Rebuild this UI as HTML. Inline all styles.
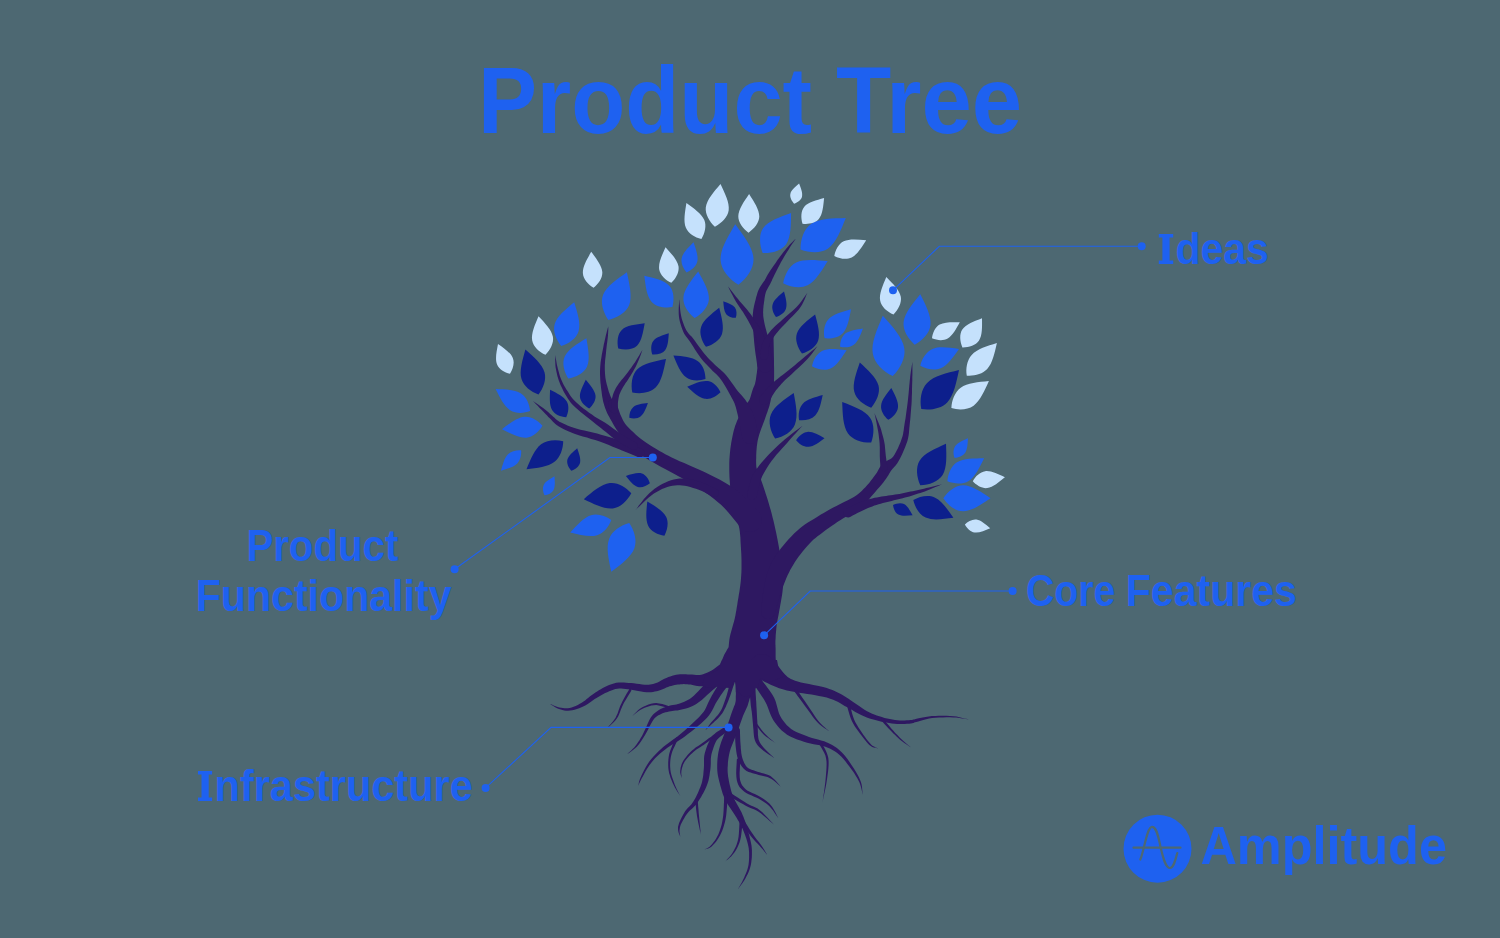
<!DOCTYPE html>
<html><head><meta charset="utf-8"><title>Product Tree</title>
<style>
html,body{margin:0;padding:0;background:#4d6872;}
body{width:1500px;height:938px;overflow:hidden;font-family:"Liberation Sans",sans-serif;}
svg{display:block;}
</style></head><body>
<svg width="1500" height="938" viewBox="0 0 1500 938">
<rect width="1500" height="938" fill="#4d6872"/>
<g fill="#2e1861">
<path d="M755.5 335.5L755.8 338.4L756.2 342.4L756.7 347.1L757.1 352.1L757.5 356.9L757.6 361.1L757.5 364.9L757.3 368.7L756.9 372.4L756.4 375.8L756.0 378.9L755.5 381.6L755.1 383.5L754.7 384.8L754.2 385.9L753.7 387.1L753.0 388.7L752.4 390.6L751.8 392.6L751.2 394.4L750.8 396.1L750.3 397.6L749.8 399.0L749.2 400.2L748.6 401.2L747.8 402.2L746.8 403.5L745.7 405.0L744.4 406.8L743.1 408.9L741.9 411.1L740.7 413.4L739.5 415.9L738.2 418.5L737.0 421.1L736.0 423.7L735.1 426.1L734.4 428.4L733.8 430.6L733.2 432.9L732.7 435.3L732.2 437.7L731.7 440.3L731.2 443.0L730.8 445.8L730.4 448.6L730.1 451.4L729.8 454.2L729.6 456.9L729.4 459.6L729.3 462.4L729.3 465.3L729.3 468.3L729.3 471.4L729.4 474.5L729.5 477.5L729.7 480.3L729.9 483.1L730.1 485.8L730.4 488.6L730.8 491.8L731.4 495.3L732.0 498.8L732.6 502.4L733.3 506.0L734.1 509.5L735.0 513.1L736.0 516.6L737.1 519.9L738.0 523.0L738.8 525.9L739.4 528.7L739.8 531.5L740.1 534.5L740.4 537.5L740.5 540.7L740.7 544.0L740.9 547.3L741.1 550.6L741.3 553.8L741.4 557.0L741.5 560.1L741.5 563.1L741.5 566.2L741.5 569.3L741.4 572.4L741.2 575.4L741.0 578.2L740.8 580.9L740.5 583.5L740.2 586.0L739.8 588.7L739.4 591.7L738.8 594.9L738.3 598.2L737.7 601.5L737.3 604.4L736.8 607.2L736.4 609.9L735.9 612.6L735.4 615.4L734.8 618.3L734.1 621.2L733.2 624.3L732.3 627.5L731.4 630.7L730.5 633.9L729.8 637.0L729.3 640.1L729.0 642.9L728.8 645.1L728.7 646.6L728.5 647.3L728.2 647.9L727.6 648.8L726.9 650.0L726.1 651.4L725.2 653.1L724.2 654.8L723.4 656.7L722.7 658.4L722.0 659.9L721.4 661.3L720.8 662.4L720.4 663.2L720.0 663.8L778.0 672.2L777.8 671.4L777.6 670.4L777.4 669.4L777.2 668.2L776.9 667.0L776.6 665.9L776.3 664.7L776.1 663.1L775.9 661.1L775.7 658.8L775.6 656.3L775.6 653.5L775.6 650.7L775.6 648.3L775.5 646.5L775.5 645.3L775.4 644.3L775.4 643.0L775.4 640.9L775.6 638.3L775.7 635.3L776.0 632.1L776.3 628.8L776.6 625.7L777.0 622.9L777.5 620.1L778.0 617.4L778.6 614.5L779.1 611.6L779.7 608.5L780.2 605.5L780.8 602.2L781.4 598.7L782.1 594.8L782.6 590.8L782.9 586.5L783.0 582.4L782.9 578.5L782.6 574.6L782.3 570.9L781.9 567.4L781.5 563.8L781.0 560.2L780.5 556.6L779.9 553.0L779.3 549.5L778.7 546.1L778.1 542.7L777.5 539.4L776.8 536.0L776.1 532.5L775.3 528.9L774.5 525.2L773.6 521.3L772.6 517.4L771.7 513.7L770.7 510.1L769.7 506.7L768.8 503.5L767.9 500.5L766.9 497.3L765.8 493.9L764.7 490.6L763.6 487.3L762.6 484.3L761.6 481.4L760.6 478.6L759.6 476.2L758.7 474.1L757.9 472.2L757.2 470.4L756.7 468.6L756.3 466.7L756.2 464.7L756.1 462.6L756.1 460.4L756.2 458.1L756.2 455.8L756.3 453.5L756.4 451.2L756.6 448.9L756.8 446.6L757.1 444.4L757.4 442.3L757.7 440.4L758.1 438.8L758.5 437.2L758.9 435.7L759.4 434.1L760.0 432.3L760.6 430.4L761.4 428.2L762.3 425.9L763.2 423.5L764.1 421.2L764.9 419.1L765.4 417.4L766.0 415.8L766.6 414.1L767.3 412.2L768.0 410.1L768.8 407.8L769.5 405.5L770.0 403.3L770.5 401.3L770.9 399.3L771.3 397.6L771.6 396.0L771.9 394.6L772.3 393.2L772.7 391.5L773.2 389.3L773.6 386.7L773.9 383.8L774.0 380.6L774.1 377.1L774.1 373.3L774.1 369.3L774.0 365.1L774.0 360.9L773.9 356.3L773.8 351.3L773.7 346.1L773.6 341.4L773.5 337.3L773.5 334.5Z"/>
<path d="M795.7 238.8L794.9 239.6L793.8 240.6L792.5 241.9L791.1 243.3L789.6 244.8L788.2 246.4L786.8 248.0L785.4 249.7L783.9 251.5L782.4 253.5L780.9 255.5L779.2 257.7L777.5 260.1L775.6 262.9L773.6 265.7L771.7 268.5L770.0 271.1L768.6 273.2L767.5 274.9L766.8 276.3L766.2 277.5L765.7 278.4L765.2 279.3L764.6 280.4L763.8 281.6L762.9 282.8L761.9 284.2L760.9 285.8L759.8 287.4L758.9 289.3L758.1 291.1L757.4 293.0L756.9 294.9L756.3 296.8L755.8 298.7L755.4 300.4L754.9 302.2L754.5 304.0L754.0 305.9L753.7 307.8L753.3 309.7L753.1 311.7L752.9 313.4L752.7 315.1L752.7 316.8L752.6 318.6L752.7 320.8L752.8 323.4L753.0 326.6L753.2 330.3L753.5 334.3L753.9 338.4L754.2 342.4L754.6 346.2L755.0 349.8L755.5 353.7L756.1 357.5L756.6 361.0L757.0 364.0L757.3 366.1L758.4 369.0L760.4 371.2L763.1 372.5L766.1 372.7L769.0 371.6L771.2 369.6L772.5 366.9L772.7 363.9L772.3 361.7L771.9 358.8L771.4 355.3L770.8 351.4L770.1 347.6L769.4 343.8L768.6 340.1L767.7 336.2L766.7 332.2L765.7 328.4L764.8 324.9L764.2 322.0L763.8 319.7L763.5 317.9L763.3 316.5L763.2 315.2L763.2 313.9L763.1 312.3L763.2 310.7L763.2 309.1L763.4 307.4L763.5 305.7L763.8 303.9L764.0 302.2L764.3 300.4L764.5 298.6L764.8 296.8L765.1 295.1L765.5 293.6L765.9 292.1L766.4 290.8L767.1 289.4L767.9 288.0L768.7 286.6L769.6 285.1L770.4 283.6L771.0 282.3L771.5 281.2L772.0 280.2L772.4 279.1L773.0 277.9L773.8 276.2L774.9 273.9L776.3 271.2L777.8 268.2L779.4 265.2L780.9 262.3L782.4 259.7L783.7 257.4L785.0 255.2L786.2 253.2L787.5 251.2L788.7 249.4L789.8 247.6L790.9 245.8L792.1 244.1L793.2 242.5L794.2 241.0L795.1 239.7L795.7 238.8Z"/>
<path d="M728.0 286.4L728.8 288.0L729.9 290.2L731.2 292.8L732.7 295.6L734.1 298.3L735.6 300.9L737.0 303.2L738.5 305.5L740.0 307.7L741.5 309.9L743.0 312.1L744.3 314.2L745.7 316.4L746.9 318.6L748.2 320.8L749.4 323.0L750.5 325.1L751.6 327.2L752.6 329.2L753.5 331.1L754.3 332.9L755.0 334.7L755.6 336.5L756.2 338.3L756.7 340.3L757.2 342.7L757.6 345.1L758.0 347.4L758.3 349.4L758.6 350.9L759.3 352.5L760.5 353.8L762.2 354.4L763.9 354.4L765.5 353.7L766.8 352.5L767.4 350.8L767.4 349.1L767.1 347.7L766.6 345.7L766.1 343.3L765.4 340.7L764.6 338.1L763.8 335.7L762.8 333.5L761.8 331.5L760.8 329.6L759.6 327.8L758.5 325.9L757.2 324.0L755.9 322.0L754.5 319.9L753.1 317.8L751.6 315.6L750.1 313.5L748.5 311.4L746.8 309.3L745.0 307.2L743.3 305.2L741.5 303.2L739.7 301.2L738.0 299.1L736.2 296.9L734.3 294.5L732.4 292.0L730.6 289.7L729.1 287.8L728.0 286.4Z"/>
<path d="M807.5 292.5L806.5 293.9L805.1 295.9L803.5 298.3L801.8 300.8L799.9 303.3L798.0 305.5L796.1 307.5L794.0 309.5L791.8 311.5L789.4 313.5L787.1 315.5L784.8 317.6L782.6 319.6L780.2 321.7L777.8 323.7L775.5 325.8L773.3 328.0L771.3 330.1L769.5 332.2L767.9 334.2L766.4 336.3L765.0 338.4L763.8 340.5L762.7 342.8L761.8 345.2L761.2 347.8L760.8 350.3L760.5 352.5L760.2 354.3L760.0 355.5L760.2 357.1L760.9 358.5L762.1 359.5L763.5 360.0L765.1 359.8L766.5 359.1L767.5 357.9L768.0 356.5L768.1 355.1L768.2 353.3L768.3 351.2L768.5 349.1L768.8 347.0L769.3 345.2L770.0 343.5L770.8 341.7L771.9 339.8L773.1 337.9L774.4 335.9L775.9 333.9L777.6 331.9L779.4 329.7L781.5 327.6L783.7 325.3L785.9 323.1L788.0 320.8L790.1 318.6L792.2 316.5L794.4 314.3L796.5 312.0L798.6 309.7L800.4 307.3L802.0 304.7L803.5 301.8L804.8 299.0L805.9 296.3L806.8 294.1L807.5 292.5Z"/>
<path d="M817.5 346.2L816.1 347.3L814.3 348.9L812.0 350.8L809.6 352.8L807.2 354.8L804.8 356.8L802.5 358.7L800.1 360.7L797.6 362.8L795.1 364.9L792.7 366.9L790.4 368.7L788.3 370.4L786.4 371.9L784.5 373.4L782.6 374.9L780.8 376.3L779.0 377.8L777.2 379.2L775.5 380.6L773.9 381.9L772.2 383.3L770.6 384.8L768.9 386.4L767.2 388.3L765.4 390.3L763.7 392.4L762.1 394.4L760.8 396.0L759.9 397.1L759.1 398.9L759.1 400.9L759.8 402.7L761.1 404.1L762.9 404.9L764.9 404.9L766.7 404.2L768.1 402.9L768.9 401.6L769.9 399.8L771.2 397.7L772.5 395.5L773.8 393.4L775.1 391.6L776.2 390.0L777.5 388.4L778.7 386.9L780.1 385.4L781.5 383.8L783.0 382.2L784.6 380.6L786.2 379.1L787.9 377.5L789.7 375.9L791.6 374.2L793.6 372.3L795.7 370.3L798.0 368.2L800.4 366.0L802.8 363.7L805.0 361.5L807.2 359.2L809.2 356.9L811.3 354.4L813.2 351.9L815.0 349.6L816.4 347.6L817.5 346.2Z"/>
<path d="M679.3 299.3L679.2 301.1L679.0 303.7L678.8 306.7L678.7 310.0L678.7 313.2L678.9 316.2L679.3 318.9L679.9 321.7L680.7 324.4L681.5 327.0L682.4 329.5L683.3 331.7L684.2 333.7L685.2 335.3L686.3 336.7L687.3 338.0L688.4 339.5L689.7 341.3L691.2 343.6L693.0 346.3L694.8 349.3L696.8 352.2L698.7 355.1L700.6 357.7L702.4 359.9L704.1 362.0L705.8 363.8L707.5 365.6L709.2 367.3L710.9 369.1L712.7 370.9L714.4 372.6L716.1 374.1L717.8 375.7L719.4 377.4L720.9 379.4L722.5 381.7L724.2 384.4L725.9 387.3L727.6 390.2L729.1 393.0L730.5 395.6L731.8 397.9L732.8 399.8L733.7 401.5L734.4 403.1L735.0 404.7L735.6 406.6L736.3 408.9L736.9 411.5L737.6 414.2L738.2 416.9L738.8 419.6L739.3 422.1L739.8 424.6L740.3 427.4L740.9 430.4L741.4 433.1L741.8 435.5L742.1 437.3L743.2 440.2L745.4 442.5L748.2 443.8L751.3 443.9L754.2 442.8L756.5 440.6L757.8 437.8L757.9 434.7L757.6 433.0L757.3 430.6L756.9 427.6L756.3 424.4L755.6 421.1L754.7 417.9L753.6 414.9L752.3 412.0L750.9 409.2L749.4 406.4L747.9 403.8L746.4 401.4L744.9 399.2L743.4 397.4L742.0 395.8L740.6 394.3L739.2 392.8L737.7 391.0L736.0 388.7L734.1 386.1L732.1 383.3L730.1 380.4L728.1 377.7L726.1 375.2L724.1 373.1L722.2 371.2L720.3 369.5L718.5 368.0L716.8 366.5L715.1 364.9L713.4 363.2L711.6 361.5L710.0 359.9L708.3 358.2L706.6 356.3L704.8 354.3L703.0 352.0L701.0 349.3L698.9 346.5L696.9 343.7L695.0 341.0L693.3 338.7L691.8 336.8L690.4 335.4L689.2 334.2L688.2 333.1L687.3 331.8L686.3 330.3L685.3 328.2L684.3 326.0L683.4 323.5L682.5 321.0L681.7 318.4L681.1 315.8L680.6 313.0L680.2 309.9L679.9 306.7L679.6 303.7L679.5 301.1L679.3 299.3Z"/>
<path d="M802.5 425.8L800.6 427.3L797.9 429.2L794.7 431.6L791.3 434.2L787.9 436.9L784.7 439.6L781.6 442.2L778.5 445.0L775.4 448.0L772.3 450.9L769.3 454.0L766.5 456.9L763.9 459.9L761.4 462.8L759.0 465.8L756.8 468.8L754.7 471.9L752.9 475.1L751.3 478.7L750.1 482.4L749.1 486.0L748.3 489.3L747.6 492.0L747.1 493.8L747.1 495.8L747.7 497.6L749.1 499.1L750.8 499.9L752.8 499.9L754.6 499.3L756.1 497.9L756.9 496.2L757.3 494.1L757.8 491.4L758.4 488.2L759.2 485.0L760.1 481.8L761.1 478.9L762.3 476.1L763.8 473.2L765.5 470.2L767.3 467.2L769.4 464.1L771.5 461.1L773.9 458.0L776.4 454.8L779.2 451.7L782.0 448.5L784.8 445.4L787.5 442.4L790.2 439.3L793.1 436.1L796.0 433.0L798.6 430.0L800.9 427.6L802.5 425.8Z"/>
<path d="M608.3 326.3L608.1 327.2L607.7 328.3L607.4 329.6L606.9 331.2L606.5 333.0L606.0 334.8L605.5 336.9L605.0 339.3L604.4 341.9L603.8 344.5L603.3 347.2L602.8 349.7L602.3 352.3L601.8 354.8L601.4 357.4L601.0 359.9L600.6 362.4L600.4 364.9L600.2 367.2L600.1 369.5L600.0 371.7L600.0 373.8L600.1 376.0L600.2 378.3L600.3 380.6L600.5 382.9L600.8 385.3L601.0 387.5L601.3 389.7L601.6 391.7L601.8 393.6L602.0 395.3L602.3 397.0L602.6 398.6L602.9 400.3L603.3 402.0L603.8 403.8L604.3 405.5L604.8 407.1L605.3 408.5L605.8 409.8L606.3 411.1L606.9 412.4L607.6 413.9L608.4 415.4L609.3 417.0L610.2 418.7L611.2 420.4L612.1 422.1L613.0 423.7L614.0 425.6L615.2 427.5L616.6 429.7L618.3 432.0L620.2 434.4L622.2 437.2L624.5 440.1L627.0 443.0L629.6 445.9L632.3 448.5L635.1 450.9L638.1 453.0L641.0 455.0L644.0 456.9L646.9 458.7L649.9 460.5L653.0 462.3L656.0 464.0L659.0 465.7L662.2 467.4L665.6 469.3L669.3 471.3L673.5 473.6L678.0 476.0L682.7 478.5L687.4 481.1L692.0 483.7L696.4 486.5L700.8 489.4L705.3 492.5L709.6 495.5L713.8 498.7L717.7 501.9L721.3 505.1L724.8 508.6L728.6 512.8L732.3 517.3L735.8 521.6L738.8 525.3L741.1 528.1L744.9 530.9L749.4 532.0L754.1 531.3L758.1 528.9L760.9 525.1L762.0 520.6L761.3 515.9L758.9 511.9L756.5 509.5L753.2 506.1L749.1 501.9L744.6 497.4L739.7 493.0L734.7 488.9L729.7 485.5L724.7 482.4L719.5 479.6L714.4 477.0L709.4 474.5L704.4 472.1L699.4 469.7L694.2 467.4L689.1 465.2L684.2 463.1L679.6 461.2L675.5 459.3L671.7 457.5L668.4 455.8L665.3 454.2L662.4 452.6L659.5 451.0L656.7 449.3L653.7 447.5L650.9 445.8L648.2 444.0L645.6 442.3L643.1 440.5L640.7 438.7L638.2 436.7L635.6 434.5L633.1 432.1L630.6 429.8L628.4 427.5L626.5 425.4L625.1 423.7L624.0 422.0L623.1 420.5L622.4 418.9L621.6 417.2L620.8 415.6L620.1 413.9L619.6 412.4L619.0 410.8L618.5 409.2L617.9 407.5L617.1 405.9L616.1 404.3L615.1 403.0L614.2 401.8L613.2 400.8L612.4 399.8L611.7 398.8L611.1 397.6L610.5 396.3L610.0 395.0L609.5 393.6L608.9 392.0L608.4 390.3L607.9 388.4L607.3 386.3L606.7 384.2L606.2 382.0L605.8 379.9L605.4 377.7L605.2 375.7L605.0 373.6L604.9 371.6L604.8 369.5L604.8 367.4L604.8 365.1L605.0 362.8L605.1 360.4L605.4 357.9L605.7 355.4L606.0 352.8L606.2 350.3L606.5 347.7L606.8 345.0L607.2 342.3L607.5 339.8L607.8 337.3L608.0 335.2L608.1 333.2L608.2 331.4L608.3 329.8L608.3 328.4L608.3 327.2L608.3 326.3Z"/>
<path d="M608.1 405.0L608.2 405.5L608.4 406.2L608.6 407.0L608.8 407.8L609.0 408.5L609.1 409.0L609.8 410.4L610.9 411.4L612.4 412.0L614.0 411.9L615.4 411.2L616.4 410.1L617.0 408.6L616.9 407.0L616.8 406.5L616.6 405.8L616.4 405.0L616.2 404.2L616.0 403.5L615.9 403.0L615.2 401.6L614.1 400.6L612.6 400.0L611.0 400.1L609.6 400.8L608.6 401.9L608.0 403.4Z"/>
<path d="M608.1 405.0L608.2 405.5L608.4 406.2L608.6 407.0L608.8 407.8L609.0 408.5L609.1 409.0L609.8 410.4L610.9 411.4L612.4 412.0L614.0 411.9L615.4 411.2L616.4 410.1L617.0 408.6L616.9 407.0L616.8 406.5L616.6 405.8L616.4 405.0L616.2 404.2L616.0 403.5L615.9 403.0L615.2 401.6L614.1 400.6L612.6 400.0L611.0 400.1L609.6 400.8L608.6 401.9L608.0 403.4Z"/>
<path d="M642.4 350.0L641.6 351.3L640.5 353.1L639.3 355.2L637.9 357.5L636.5 359.8L635.2 361.9L633.9 363.8L632.5 365.8L631.2 367.7L629.8 369.6L628.4 371.5L627.1 373.3L625.7 375.0L624.3 376.7L622.9 378.4L621.5 380.1L620.2 381.7L619.0 383.3L618.0 384.8L617.0 386.2L616.2 387.6L615.4 389.0L614.7 390.4L614.0 391.9L613.4 393.5L612.9 395.0L612.5 396.5L612.1 398.1L611.8 399.6L611.6 401.1L611.4 402.8L611.2 404.5L611.1 406.2L611.1 407.8L611.0 409.1L611.0 410.0L611.2 411.3L612.0 412.4L613.1 413.2L614.5 413.5L615.8 413.3L616.9 412.5L617.7 411.4L618.0 410.0L618.0 409.1L617.9 407.8L617.9 406.3L617.9 404.8L617.9 403.3L618.0 401.9L618.2 400.6L618.4 399.2L618.6 397.9L618.9 396.6L619.2 395.3L619.6 394.1L620.1 392.9L620.6 391.7L621.2 390.4L621.9 389.2L622.7 387.8L623.6 386.3L624.6 384.8L625.6 383.1L626.8 381.4L628.1 379.5L629.3 377.6L630.5 375.7L631.7 373.7L632.9 371.7L634.1 369.6L635.3 367.4L636.4 365.3L637.4 363.1L638.4 360.8L639.4 358.3L640.4 355.8L641.2 353.4L641.9 351.4L642.4 350.0Z"/>
<path d="M533.1 401.1L534.2 402.3L535.8 403.9L537.7 405.8L539.6 407.9L541.5 409.8L543.2 411.5L544.6 413.0L545.8 414.3L547.1 415.6L548.3 416.9L549.5 418.1L550.8 419.3L551.9 420.5L553.0 421.7L554.1 422.8L555.4 424.1L557.0 425.3L558.9 426.6L561.1 427.8L563.4 429.0L566.0 430.2L568.9 431.5L571.9 432.7L575.1 433.9L578.8 435.2L582.8 436.4L587.0 437.6L591.2 438.9L595.2 440.1L599.0 441.3L602.4 442.6L605.7 443.8L608.9 445.1L612.1 446.4L615.3 447.7L618.5 449.0L622.0 450.4L625.8 452.0L629.6 453.5L633.1 455.0L636.1 456.3L638.3 457.2L640.0 457.5L641.8 457.1L643.2 456.2L644.2 454.7L644.5 453.0L644.1 451.2L643.2 449.8L641.7 448.8L639.5 448.0L636.5 446.8L632.9 445.3L629.0 443.8L625.1 442.3L621.5 441.0L618.2 439.9L614.9 438.8L611.6 437.7L608.2 436.7L604.7 435.7L601.0 434.7L597.1 433.6L592.8 432.6L588.5 431.6L584.3 430.6L580.4 429.7L576.9 428.7L573.7 427.7L570.7 426.7L568.0 425.7L565.4 424.6L563.2 423.6L561.1 422.6L559.4 421.7L558.0 420.8L556.9 419.9L555.7 418.9L554.5 417.8L553.2 416.7L551.9 415.6L550.7 414.4L549.4 413.2L548.1 412.0L546.6 410.8L545.0 409.5L543.1 408.0L540.9 406.4L538.5 404.8L536.3 403.3L534.4 402.0L533.1 401.1Z"/>
<path d="M555.2 355.0L555.2 356.3L555.2 358.1L555.2 360.2L555.3 362.5L555.4 364.9L555.6 367.2L556.0 369.3L556.4 371.5L556.9 373.8L557.4 376.0L558.1 378.3L558.8 380.5L559.6 382.6L560.4 384.7L561.4 386.8L562.4 388.8L563.4 390.9L564.5 392.9L565.7 394.9L566.8 396.8L568.0 398.8L569.4 400.8L571.0 402.9L572.9 405.1L575.2 407.3L577.8 409.6L580.6 411.9L583.5 414.2L586.3 416.4L588.9 418.6L591.4 420.6L593.9 422.5L596.3 424.4L598.6 426.3L600.9 428.1L603.2 429.9L605.6 431.8L608.0 433.8L610.4 435.7L612.8 437.7L615.3 439.6L617.8 441.3L620.4 443.0L623.2 444.7L626.0 446.2L628.5 447.6L630.6 448.7L632.1 449.5L633.6 450.0L635.1 449.8L636.5 449.1L637.5 447.9L638.0 446.4L637.8 444.9L637.1 443.5L635.9 442.5L634.4 441.6L632.3 440.5L629.9 439.2L627.2 437.7L624.6 436.1L622.2 434.7L619.9 433.1L617.5 431.4L615.0 429.7L612.5 427.9L609.9 426.0L607.4 424.3L604.8 422.6L602.2 421.1L599.6 419.5L597.0 418.0L594.5 416.4L591.9 414.6L589.1 412.7L586.3 410.6L583.4 408.4L580.6 406.2L578.1 404.1L575.9 402.1L574.1 400.3L572.5 398.4L571.1 396.7L569.9 394.9L568.7 393.0L567.5 391.1L566.2 389.2L565.1 387.3L564.0 385.4L563.0 383.5L562.1 381.5L561.2 379.5L560.4 377.5L559.7 375.4L559.1 373.2L558.5 371.1L557.9 368.9L557.4 366.8L556.9 364.7L556.5 362.4L556.1 360.1L555.7 358.1L555.4 356.3L555.2 355.0Z"/>
<path d="M635.3 510.3L637.0 508.6L639.5 506.2L642.3 503.4L645.4 500.4L648.4 497.7L651.3 495.4L653.9 493.6L656.6 491.9L659.3 490.4L662.0 489.1L664.7 488.0L667.3 487.0L669.9 486.3L672.4 485.8L674.8 485.4L677.3 485.3L679.7 485.2L682.2 485.4L684.8 485.7L687.5 486.3L690.3 487.0L693.2 487.9L696.0 488.8L698.7 489.8L701.3 490.8L704.1 492.0L706.8 493.4L709.4 494.7L711.6 495.8L713.2 496.6L714.7 497.0L716.3 496.8L717.6 496.0L718.6 494.8L719.0 493.3L718.8 491.7L718.0 490.4L716.8 489.4L715.2 488.6L713.0 487.5L710.4 486.1L707.4 484.7L704.4 483.4L701.3 482.2L698.4 481.3L695.4 480.4L692.2 479.6L689.0 479.0L685.7 478.6L682.6 478.4L679.5 478.5L676.6 478.9L673.8 479.5L671.0 480.2L668.2 481.2L665.5 482.4L662.7 483.7L660.0 485.2L657.2 486.9L654.6 488.8L651.9 490.9L649.3 493.2L646.7 495.9L643.9 499.1L641.3 502.4L638.8 505.6L636.8 508.4L635.3 510.3Z"/>
<path d="M912.4 362.0L912.2 363.1L912.0 364.5L911.7 366.3L911.4 368.2L911.1 370.1L910.8 371.9L910.6 373.6L910.4 375.1L910.2 376.6L910.1 378.3L909.8 380.2L909.6 382.6L909.3 385.6L909.0 388.9L908.7 392.6L908.3 396.4L907.9 400.2L907.5 403.8L907.0 407.4L906.5 411.1L906.0 414.8L905.5 418.4L904.9 421.8L904.4 425.0L904.0 427.8L903.7 430.2L903.3 432.4L903.0 434.5L902.4 436.7L901.6 439.1L900.6 441.9L899.3 445.1L897.8 448.4L896.2 451.6L894.6 454.5L893.1 456.8L891.6 458.3L890.1 459.3L888.4 460.1L886.6 461.0L884.6 462.2L882.6 463.9L880.9 465.8L879.7 467.6L878.7 469.3L877.9 470.8L877.0 472.4L875.9 474.1L874.4 476.0L872.8 478.2L871.0 480.6L869.2 482.9L867.3 485.1L865.4 487.2L863.5 489.1L861.7 490.9L860.0 492.4L858.2 493.9L856.2 495.4L853.9 496.9L851.1 498.5L847.8 500.3L844.1 502.1L840.2 504.0L836.4 505.9L832.8 507.8L829.6 509.5L826.6 511.2L823.7 512.9L820.9 514.6L818.2 516.2L815.5 517.9L813.0 519.4L810.4 520.9L807.9 522.5L805.2 524.3L802.5 526.2L799.7 528.5L796.9 531.0L794.1 533.6L791.3 536.4L788.6 539.3L786.0 542.2L783.5 545.2L781.2 548.0L779.0 550.9L776.8 553.8L774.7 556.9L772.8 560.2L771.0 563.6L769.5 567.2L768.1 570.8L767.0 574.4L766.0 578.1L765.1 581.8L764.3 585.7L763.5 590.1L762.8 594.9L762.3 599.7L761.8 604.2L761.4 608.0L761.1 610.7L761.1 613.4L762.2 615.9L764.1 617.8L766.7 618.9L769.4 618.9L771.9 617.8L773.8 615.9L774.9 613.3L775.6 610.7L776.6 607.0L777.9 602.8L779.2 598.3L780.5 594.0L781.7 590.3L782.9 587.0L784.1 583.7L785.3 580.7L786.5 577.8L787.7 575.0L789.0 572.4L790.3 569.8L791.8 567.2L793.3 564.7L794.9 562.1L796.6 559.5L798.5 556.8L800.5 554.2L802.6 551.5L804.9 548.8L807.1 546.2L809.4 543.7L811.5 541.5L813.5 539.6L815.5 537.9L817.5 536.3L819.7 534.7L822.0 533.0L824.5 531.1L826.9 529.3L829.4 527.6L831.9 525.8L834.6 524.0L837.3 522.1L840.2 520.2L843.3 518.3L846.8 516.2L850.5 514.0L854.3 511.7L857.9 509.4L861.1 507.1L863.8 504.8L866.1 502.6L868.1 500.4L869.8 498.3L871.4 496.3L873.2 494.2L875.2 492.0L877.2 489.6L879.3 487.3L881.2 484.9L883.1 482.7L884.7 480.5L886.2 478.5L887.5 476.6L888.5 475.0L889.3 473.5L890.1 472.3L890.8 471.1L891.6 470.0L892.6 468.7L894.0 467.2L895.6 465.4L897.3 463.2L898.9 460.6L900.4 457.7L902.0 454.5L903.5 451.0L905.0 447.5L906.3 444.1L907.4 440.9L908.1 438.1L908.6 435.6L908.9 433.2L909.1 430.8L909.3 428.4L909.6 425.6L909.9 422.5L910.3 419.0L910.6 415.3L910.9 411.6L911.2 407.8L911.5 404.2L911.7 400.5L911.8 396.6L912.0 392.8L912.0 389.1L912.1 385.7L912.2 382.8L912.3 380.4L912.3 378.4L912.3 376.7L912.4 375.2L912.4 373.7L912.4 372.1L912.4 370.2L912.4 368.3L912.4 366.4L912.4 364.6L912.4 363.1L912.4 362.0Z"/>
<path d="M874.4 413.1L874.8 414.8L875.3 417.1L875.9 419.8L876.5 422.7L877.1 425.7L877.6 428.4L878.1 430.9L878.5 433.4L878.8 436.0L879.1 438.5L879.4 441.0L879.6 443.3L879.7 445.5L879.8 447.7L879.8 449.8L879.8 451.9L879.8 454.1L879.8 456.2L879.9 458.5L880.0 460.8L880.2 463.2L880.3 465.3L880.4 467.1L880.5 468.4L880.9 469.7L881.8 470.7L883.0 471.4L884.4 471.5L885.7 471.1L886.7 470.2L887.4 469.0L887.5 467.6L887.3 466.3L887.0 464.6L886.7 462.5L886.4 460.2L886.1 457.9L885.8 455.8L885.6 453.8L885.4 451.7L885.2 449.6L885.0 447.4L884.8 445.1L884.4 442.7L883.9 440.3L883.3 437.8L882.6 435.2L881.9 432.7L881.2 430.1L880.4 427.6L879.4 425.0L878.3 422.2L877.1 419.4L876.0 416.8L875.1 414.7L874.4 413.1Z"/>
<path d="M942.0 484.3L940.3 484.7L937.9 485.3L935.0 486.0L932.0 486.8L929.0 487.5L926.3 488.1L924.0 488.7L921.7 489.2L919.4 489.7L917.2 490.2L915.0 490.7L912.8 491.2L910.6 491.6L908.3 492.1L906.1 492.6L903.9 493.0L901.7 493.5L899.5 493.9L897.3 494.2L895.1 494.5L892.8 494.9L890.6 495.2L888.3 495.5L886.1 495.9L883.8 496.2L881.6 496.6L879.3 496.9L876.9 497.4L874.6 497.8L872.2 498.4L869.9 499.1L867.5 499.8L865.1 500.6L862.8 501.4L860.5 502.2L858.3 503.1L855.9 504.1L853.5 505.2L851.2 506.4L849.0 507.5L847.2 508.4L845.9 509.0L844.6 510.1L843.7 511.6L843.5 513.4L844.0 515.1L845.1 516.4L846.6 517.3L848.4 517.5L850.1 517.0L851.4 516.3L853.1 515.3L855.2 514.2L857.4 513.1L859.6 511.9L861.7 510.9L863.8 509.9L865.9 509.0L868.0 508.1L870.1 507.2L872.3 506.4L874.4 505.6L876.5 504.9L878.6 504.3L880.7 503.7L882.9 503.1L885.1 502.5L887.3 501.9L889.5 501.4L891.7 500.9L893.9 500.3L896.1 499.8L898.3 499.3L900.5 498.7L902.7 498.2L905.0 497.6L907.2 497.0L909.4 496.4L911.6 495.7L913.8 495.0L916.0 494.3L918.2 493.6L920.3 492.9L922.5 492.2L924.8 491.4L927.1 490.5L929.6 489.5L932.5 488.3L935.4 487.1L938.1 486.0L940.4 485.0L942.0 484.3Z"/>
<path d="M549.1 703.4L550.1 704.0L551.6 705.0L553.3 706.1L555.2 707.2L557.1 708.2L559.0 709.0L560.7 709.5L562.5 710.0L564.2 710.4L566.1 710.7L568.1 710.8L570.1 710.6L572.3 710.3L574.6 709.7L576.9 709.0L579.2 708.2L581.5 707.2L583.7 706.3L585.7 705.2L587.7 703.9L589.5 702.7L591.3 701.4L593.0 700.2L594.7 699.1L596.5 698.0L598.2 696.9L599.9 695.9L601.6 694.9L603.4 694.0L605.2 693.1L607.2 692.2L609.2 691.3L611.3 690.4L613.3 689.7L615.3 689.1L617.3 688.8L619.2 688.6L621.2 688.6L623.3 688.7L625.6 688.9L627.9 689.2L630.3 689.5L632.8 689.9L635.5 690.4L638.3 691.0L641.2 691.5L643.9 692.0L646.6 692.2L648.9 692.3L651.0 692.2L653.0 692.0L654.8 691.6L656.6 691.2L658.5 690.7L660.6 690.0L662.6 689.2L664.5 688.4L666.3 687.5L668.0 686.9L669.6 686.3L671.2 685.9L672.9 685.4L674.6 685.1L676.2 684.8L677.8 684.5L679.3 684.4L680.8 684.2L682.3 684.2L683.8 684.1L685.4 684.2L687.2 684.3L688.9 684.4L690.7 684.6L692.5 685.0L694.7 685.5L697.1 686.0L699.8 686.3L702.7 686.3L705.5 686.0L708.3 685.5L711.0 684.9L713.8 684.1L716.5 683.3L719.1 682.3L721.9 681.0L724.7 679.5L727.3 677.9L729.5 676.5L731.4 675.3L732.6 674.5L734.8 672.3L735.9 669.3L735.8 666.2L734.5 663.4L732.3 661.2L729.3 660.1L726.2 660.2L723.4 661.5L722.1 662.5L720.4 663.9L718.5 665.5L716.5 667.1L714.6 668.6L712.9 669.7L711.1 670.8L709.1 671.8L707.0 672.8L705.0 673.6L703.1 674.3L701.3 674.7L699.8 675.0L698.1 675.1L696.2 675.0L694.1 674.8L691.9 674.5L689.7 674.4L687.7 674.4L685.8 674.3L684.0 674.2L682.1 674.2L680.1 674.2L678.1 674.4L676.1 674.8L674.1 675.3L672.2 675.8L670.3 676.4L668.4 677.1L666.4 677.9L664.4 678.8L662.5 679.8L660.7 680.8L659.1 681.7L657.6 682.5L656.1 683.1L654.6 683.6L653.1 684.0L651.7 684.3L650.2 684.5L648.6 684.7L646.8 684.8L644.7 684.7L642.2 684.4L639.5 684.1L636.6 683.7L633.8 683.3L631.1 683.1L628.6 682.9L626.2 682.7L623.8 682.5L621.3 682.4L618.8 682.5L616.3 682.8L613.8 683.4L611.4 684.2L609.1 685.1L606.9 686.1L604.8 687.1L602.8 688.1L600.8 689.2L598.9 690.3L597.1 691.4L595.4 692.5L593.7 693.7L591.9 694.9L590.1 696.3L588.4 697.7L586.7 699.0L585.1 700.4L583.5 701.6L581.7 702.7L579.8 703.8L577.8 704.9L575.7 705.9L573.6 706.8L571.6 707.5L569.7 708.0L567.9 708.2L566.2 708.3L564.5 708.3L562.8 708.1L561.1 707.8L559.4 707.4L557.6 706.9L555.6 706.2L553.6 705.4L551.8 704.6L550.2 703.9L549.1 703.4Z"/>
<path d="M629.1 689.4L628.3 690.9L627.0 693.1L625.6 695.6L624.1 698.3L622.6 701.1L621.3 703.7L620.2 706.1L619.3 708.6L618.4 711.0L617.6 713.4L616.6 715.6L615.6 717.7L614.2 719.7L612.7 721.8L611.0 723.8L609.4 725.6L608.1 727.1L607.1 728.2L607.1 728.2L608.2 727.2L609.7 725.9L611.5 724.3L613.4 722.5L615.3 720.5L616.8 718.5L618.1 716.4L619.2 714.1L620.1 711.7L621.0 709.3L622.0 706.9L623.1 704.5L624.4 702.1L626.0 699.4L627.6 696.7L629.1 694.3L630.4 692.2L631.3 690.6L631.4 690.2L631.4 689.7L631.2 689.2L630.8 688.9L630.4 688.8L629.9 688.8L629.4 689.0Z"/>
<path d="M720.7 670.2L719.1 671.6L716.9 673.6L714.2 675.9L711.4 678.4L708.5 681.0L705.8 683.5L703.3 686.0L700.8 688.6L698.3 691.2L696.0 693.6L693.8 695.8L691.7 697.5L689.7 698.9L687.8 700.0L685.8 701.0L683.8 701.9L681.7 702.7L679.8 703.4L678.0 704.0L676.4 704.4L674.7 704.7L673.0 705.0L671.2 705.3L669.3 705.8L667.6 706.4L665.8 707.0L664.0 707.6L662.3 708.3L660.6 709.1L658.9 710.0L657.5 710.9L656.1 711.9L654.8 712.9L653.4 714.2L652.1 715.7L650.8 717.5L649.5 719.8L648.2 722.5L646.9 725.4L645.7 728.3L644.4 731.1L643.2 733.6L642.0 735.9L640.7 738.1L639.5 740.2L638.2 742.1L636.9 744.0L635.6 745.7L634.2 747.4L632.6 749.1L631.0 750.7L629.4 752.1L628.1 753.3L627.2 754.2L627.2 754.2L628.2 753.4L629.7 752.4L631.4 751.2L633.3 749.8L635.1 748.3L636.8 746.7L638.3 745.0L639.7 743.2L641.1 741.2L642.4 739.2L643.8 737.0L645.2 734.8L646.6 732.2L648.1 729.5L649.5 726.6L650.9 723.9L652.3 721.4L653.6 719.5L654.8 718.0L656.0 716.9L657.2 716.1L658.4 715.3L659.7 714.7L661.1 714.0L662.5 713.3L664.0 712.8L665.6 712.3L667.3 711.9L669.0 711.5L670.7 711.2L672.2 710.9L673.8 710.7L675.5 710.6L677.4 710.4L679.5 710.1L681.6 709.6L683.8 709.1L686.0 708.5L688.4 707.8L690.9 706.8L693.6 705.6L696.3 704.1L699.0 702.1L701.8 699.9L704.5 697.5L707.1 695.1L709.7 692.7L712.2 690.5L714.9 688.3L717.8 685.8L720.6 683.4L723.3 681.1L725.6 679.2L727.3 677.8L728.5 676.3L729.0 674.4L728.7 672.4L727.8 670.7L726.3 669.5L724.4 669.0L722.4 669.3Z"/>
<path d="M672.6 707.6L670.9 707.0L668.4 706.1L665.5 705.1L662.3 704.1L659.1 703.4L656.2 703.1L653.6 703.3L651.0 703.8L648.5 704.5L646.2 705.4L643.9 706.4L641.9 707.5L639.9 708.7L638.0 710.3L636.3 711.9L634.8 713.5L633.5 714.8L632.6 715.7L632.6 715.7L633.6 714.9L635.1 713.7L636.7 712.4L638.6 711.0L640.6 709.7L642.5 708.7L644.6 707.8L646.8 707.0L649.1 706.2L651.4 705.6L653.8 705.2L656.2 705.1L658.8 705.4L661.7 706.2L664.8 707.1L667.7 708.1L670.2 709.0L672.0 709.6L672.4 709.7L672.8 709.6L673.1 709.3L673.3 708.9L673.4 708.5L673.3 708.1L673.0 707.8Z"/>
<path d="M726.8 673.6L725.9 674.8L724.7 676.4L723.2 678.3L721.6 680.5L719.9 682.7L718.5 684.8L717.1 686.9L715.8 689.0L714.4 691.2L713.1 693.4L711.9 695.6L710.6 697.9L709.3 700.4L708.2 702.8L707.1 705.2L706.1 707.5L705.0 709.7L703.7 711.7L702.2 713.6L700.5 715.5L698.7 717.4L696.8 719.3L694.7 721.2L692.6 723.2L690.5 725.2L688.3 727.2L686.1 729.3L683.8 731.3L681.4 733.3L679.0 735.3L676.5 737.2L673.9 739.1L671.2 740.9L668.5 742.9L665.8 744.9L663.2 747.0L660.8 749.3L658.3 751.6L655.9 754.0L653.5 756.4L651.3 759.0L649.3 761.5L647.5 764.3L645.7 767.2L644.1 770.2L642.7 773.1L641.4 775.8L640.4 778.0L639.6 779.9L639.1 781.6L638.8 783.0L638.6 784.1L638.4 785.1L638.3 785.8L638.3 785.8L638.6 785.1L638.9 784.2L639.4 783.1L639.9 781.9L640.6 780.4L641.6 778.6L642.8 776.4L644.1 773.9L645.7 771.1L647.4 768.2L649.2 765.4L651.1 762.9L653.1 760.5L655.3 758.1L657.7 755.8L660.1 753.6L662.6 751.4L665.2 749.4L667.7 747.5L670.4 745.7L673.2 744.0L676.1 742.3L678.9 740.5L681.6 738.7L684.2 736.9L686.7 735.0L689.3 733.1L691.7 731.2L694.1 729.3L696.4 727.4L698.6 725.5L700.8 723.7L702.9 721.8L705.0 719.8L707.0 717.8L708.9 715.5L710.6 713.1L712.1 710.6L713.3 708.2L714.5 705.8L715.6 703.6L716.8 701.5L718.1 699.4L719.5 697.3L720.8 695.3L722.2 693.3L723.6 691.3L724.9 689.4L726.4 687.4L728.0 685.3L729.5 683.2L731.0 681.3L732.3 679.6L733.2 678.4L733.9 677.0L734.0 675.5L733.5 674.0L732.4 672.8L731.0 672.1L729.5 672.0L728.0 672.5Z"/>
<path d="M675.9 738.0L675.1 739.7L674.0 742.0L672.6 744.8L671.3 747.9L670.1 751.0L669.2 753.9L668.7 756.7L668.4 759.4L668.2 762.2L668.2 765.0L668.3 767.7L668.6 770.3L669.1 773.0L669.9 775.6L670.7 778.2L671.7 780.6L672.7 783.0L673.8 785.2L674.9 787.4L676.1 789.6L677.4 791.7L678.6 793.6L679.7 795.1L680.4 796.3L680.4 796.3L679.8 795.1L678.9 793.4L677.9 791.4L676.8 789.3L675.8 787.0L674.8 784.8L674.0 782.5L673.1 780.1L672.2 777.6L671.4 775.1L670.8 772.6L670.4 770.1L670.2 767.5L670.1 764.9L670.2 762.3L670.4 759.7L670.8 757.0L671.4 754.5L672.2 751.8L673.4 748.8L674.8 745.9L676.1 743.1L677.3 740.7L678.1 739.0L678.2 738.6L678.2 738.1L677.9 737.7L677.5 737.4L677.1 737.3L676.6 737.3L676.2 737.6Z"/>
<path d="M732.6 673.3L732.2 674.7L731.7 676.7L731.1 679.0L730.4 681.6L729.7 684.1L729.1 686.4L728.5 688.6L728.0 690.7L727.4 692.8L726.8 694.9L726.2 697.0L725.5 699.1L724.7 701.3L723.9 703.5L723.1 705.7L722.2 707.9L721.2 709.9L720.1 711.8L719.0 713.6L717.7 715.2L716.2 716.8L714.8 718.4L713.4 719.9L712.0 721.5L710.7 723.1L709.4 724.8L708.2 726.5L707.0 728.0L706.0 729.3L705.3 730.2L705.3 730.2L706.2 729.4L707.4 728.3L708.8 727.0L710.3 725.6L711.9 724.1L713.4 722.7L714.8 721.3L716.3 719.9L717.9 718.4L719.4 716.8L720.9 715.0L722.3 713.2L723.5 711.2L724.6 709.1L725.7 706.9L726.7 704.6L727.6 702.4L728.5 700.3L729.3 698.1L730.1 696.0L730.8 693.9L731.5 691.8L732.2 689.7L732.9 687.6L733.7 685.3L734.6 682.8L735.4 680.4L736.2 678.1L736.9 676.1L737.4 674.7L737.5 673.8L737.2 672.8L736.6 672.1L735.7 671.6L734.8 671.5L733.8 671.8L733.1 672.4Z"/>
<path d="M735.1 672.7L735.1 674.5L735.2 677.3L735.3 680.4L735.4 683.7L735.5 686.6L735.6 688.9L735.7 690.4L735.7 691.4L735.8 692.1L735.9 692.8L735.9 693.6L735.9 694.8L735.8 696.1L735.8 697.5L735.8 698.7L735.8 699.8L735.7 701.0L735.5 702.1L735.2 703.4L734.7 704.9L734.0 706.5L733.3 708.4L732.5 710.4L731.7 712.7L730.9 715.0L730.1 717.4L729.3 719.9L728.4 722.5L727.5 725.2L726.6 728.0L725.5 731.0L724.2 734.3L722.8 737.9L721.4 741.5L720.2 745.2L719.2 748.8L718.4 752.3L717.9 755.6L717.5 758.9L717.3 762.1L717.2 765.1L717.2 768.0L717.3 770.8L717.6 773.4L718.0 775.9L718.5 778.2L719.0 780.6L719.7 783.0L720.3 785.6L721.1 788.3L721.9 791.1L722.8 794.0L723.9 796.8L725.2 799.7L726.8 802.7L728.5 805.5L730.4 808.3L732.2 811.0L733.9 813.4L735.3 815.7L736.6 817.8L737.7 819.7L738.8 821.5L739.8 823.3L740.8 825.1L741.7 826.9L742.6 828.8L743.4 830.7L744.2 832.7L744.9 834.6L745.6 836.5L746.3 838.5L746.9 840.4L747.4 842.3L747.9 844.2L748.3 846.0L748.7 848.0L748.9 850.1L749.1 852.4L749.1 854.9L749.1 857.5L749.0 860.1L748.8 862.6L748.5 865.0L748.0 867.2L747.4 869.4L746.7 871.5L745.9 873.5L745.0 875.6L744.1 877.7L743.1 879.8L741.9 882.2L740.6 884.5L739.4 886.6L738.3 888.4L737.6 889.7L737.6 889.7L738.5 888.5L739.7 886.8L741.2 884.8L742.7 882.7L744.2 880.5L745.5 878.3L746.5 876.3L747.6 874.3L748.5 872.2L749.4 870.0L750.1 867.8L750.7 865.4L751.2 862.9L751.5 860.3L751.8 857.6L751.9 854.9L751.9 852.3L751.9 849.9L751.7 847.6L751.5 845.5L751.1 843.4L750.7 841.5L750.2 839.5L749.7 837.5L749.3 835.5L748.7 833.4L748.2 831.3L747.6 829.3L747.0 827.2L746.3 825.1L745.6 823.0L745.0 821.0L744.2 819.0L743.5 816.9L742.5 814.7L741.5 812.3L740.1 809.7L738.6 807.0L737.0 804.2L735.5 801.4L734.1 798.8L733.0 796.3L732.1 793.8L731.3 791.2L730.6 788.6L730.0 786.1L729.4 783.5L728.9 781.0L728.5 778.6L728.1 776.4L727.9 774.4L727.7 772.4L727.6 770.3L727.6 768.0L727.8 765.5L727.9 762.8L728.2 760.1L728.6 757.3L729.1 754.4L729.8 751.6L730.7 748.6L731.9 745.4L733.3 742.0L734.7 738.6L736.1 735.2L737.4 732.0L738.5 729.0L739.4 726.2L740.3 723.6L741.2 721.1L742.0 718.8L742.7 716.7L743.5 714.8L744.3 713.0L745.1 711.3L745.9 709.5L746.7 707.7L747.5 705.9L748.1 704.0L748.6 702.3L749.1 700.7L749.4 699.4L749.8 698.2L750.1 697.2L750.5 696.4L750.8 695.6L751.1 694.9L751.5 693.9L751.9 692.7L752.4 691.1L753.1 688.9L753.9 686.0L754.8 682.8L755.7 679.8L756.4 677.2L756.9 675.3L756.6 671.1L754.7 667.2L751.4 664.4L747.3 663.1L743.1 663.4L739.2 665.3L736.4 668.6Z"/>
<path d="M738.4 819.1L739.9 821.2L742.0 824.1L744.5 827.6L747.1 831.1L749.6 834.4L751.8 837.2L753.5 839.3L755.0 841.0L756.4 842.5L757.7 843.8L758.9 845.1L760.2 846.5L761.5 848.0L762.9 849.6L764.2 851.2L765.4 852.7L766.4 853.9L767.2 854.8L767.2 854.8L766.6 853.8L765.8 852.4L764.8 850.8L763.7 849.0L762.6 847.2L761.4 845.5L760.3 844.0L759.2 842.5L758.0 841.1L756.7 839.6L755.4 837.8L753.8 835.6L751.9 832.8L749.7 829.4L747.3 825.6L745.0 822.1L743.0 819.0L741.6 816.9L741.1 816.3L740.4 816.0L739.6 816.0L738.9 816.4L738.3 816.9L738.0 817.6L738.0 818.4Z"/>
<path d="M739.5 821.9L739.4 823.9L739.3 826.6L739.1 829.9L738.9 833.3L738.6 836.6L738.1 839.4L737.5 841.7L736.8 844.0L736.0 846.2L735.0 848.2L734.1 850.1L733.0 852.0L731.8 853.9L730.4 855.7L728.9 857.5L727.4 859.1L726.2 860.5L725.3 861.5L725.3 861.5L726.3 860.6L727.7 859.4L729.3 858.0L731.1 856.4L732.7 854.6L734.2 852.8L735.4 850.9L736.6 849.0L737.6 846.9L738.6 844.7L739.5 842.4L740.3 839.8L740.9 836.9L741.4 833.6L741.8 830.1L742.1 826.8L742.3 824.1L742.5 822.1L742.4 821.5L742.1 821.0L741.7 820.7L741.1 820.5L740.5 820.6L740.0 820.9L739.7 821.3Z"/>
<path d="M724.3 795.9L724.1 798.5L724.0 802.1L723.8 806.3L723.6 810.7L723.3 815.0L722.8 818.6L722.3 821.6L721.7 824.5L720.9 827.2L720.1 829.7L719.3 832.1L718.3 834.4L717.2 836.6L716.0 838.7L714.7 840.7L713.3 842.5L712.0 844.2L710.8 845.6L709.6 846.7L708.4 847.5L707.2 848.2L706.1 848.7L705.2 849.1L704.5 849.5L704.5 849.5L705.2 849.3L706.2 849.0L707.5 848.7L708.8 848.2L710.2 847.5L711.6 846.4L713.0 845.1L714.5 843.5L716.0 841.7L717.4 839.7L718.8 837.5L720.1 835.2L721.2 832.9L722.3 830.5L723.2 827.9L724.1 825.1L724.9 822.2L725.6 819.0L726.2 815.3L726.6 811.0L727.0 806.5L727.3 802.3L727.6 798.7L727.7 796.1L727.7 795.4L727.3 794.8L726.8 794.4L726.1 794.3L725.4 794.3L724.8 794.7L724.4 795.2Z"/>
<path d="M729.6 723.9L728.6 724.5L727.2 725.4L725.6 726.4L723.8 727.5L722.0 728.7L720.4 729.8L719.0 730.7L717.6 731.6L716.1 732.6L714.5 733.9L712.9 735.5L711.5 737.4L710.1 739.7L708.8 742.2L707.5 745.0L706.4 747.9L705.5 750.7L704.7 753.5L704.2 756.1L704.0 758.7L704.0 761.2L704.0 763.4L704.0 765.6L703.9 767.7L703.7 770.0L703.5 772.3L703.3 774.7L703.0 776.9L702.6 779.1L702.2 781.2L701.7 783.2L701.0 785.2L700.3 787.2L699.5 789.1L698.7 791.0L697.9 792.9L697.0 794.7L696.2 796.5L695.3 798.2L694.4 799.8L693.5 801.3L692.5 802.8L691.5 804.2L690.3 805.5L689.1 806.7L687.8 808.0L686.5 809.5L685.3 811.1L684.1 812.9L683.0 814.9L681.9 816.9L680.9 819.0L680.0 820.9L679.3 822.6L678.8 824.0L678.4 825.4L678.1 826.6L678.0 827.7L678.0 828.9L678.1 830.0L678.3 831.3L678.6 832.6L679.1 833.9L679.6 835.1L680.0 836.1L680.3 836.8L680.3 836.8L680.2 836.0L680.0 835.0L679.8 833.7L679.6 832.4L679.5 831.1L679.5 830.0L679.7 828.9L679.8 827.9L680.0 826.9L680.3 825.9L680.7 824.8L681.3 823.4L682.1 821.9L683.1 820.1L684.2 818.2L685.3 816.3L686.5 814.5L687.7 812.9L688.9 811.5L690.1 810.3L691.4 809.2L692.8 808.0L694.2 806.6L695.5 805.2L696.7 803.6L697.9 802.0L699.0 800.3L700.1 798.6L701.1 796.9L702.1 795.1L703.2 793.2L704.2 791.3L705.2 789.3L706.1 787.2L707.0 785.0L707.8 782.8L708.5 780.4L709.0 778.0L709.5 775.6L709.8 773.1L710.2 770.7L710.5 768.3L710.7 765.8L710.8 763.4L710.8 761.2L710.8 759.1L711.0 757.0L711.3 754.9L711.9 752.6L712.7 750.0L713.6 747.3L714.5 744.8L715.5 742.5L716.5 740.6L717.5 739.2L718.5 738.2L719.6 737.2L720.8 736.3L722.2 735.3L723.6 734.2L725.1 733.1L726.7 731.9L728.4 730.8L730.0 729.7L731.4 728.8L732.4 728.1L733.1 727.4L733.4 726.5L733.5 725.5L733.1 724.6L732.4 723.9L731.5 723.6L730.5 723.5Z"/>
<path d="M695.3 800.1L695.5 801.8L695.7 804.1L695.9 806.9L696.2 810.0L696.6 813.1L697.0 816.1L697.6 819.3L698.3 822.9L699.1 826.5L699.8 829.9L700.5 832.7L700.9 834.8L700.9 834.8L700.7 832.7L700.4 829.8L700.0 826.3L699.7 822.7L699.3 819.1L699.0 815.9L698.7 812.9L698.5 809.8L698.2 806.7L698.0 803.9L697.8 801.6L697.7 799.9L697.6 799.4L697.3 799.1L696.9 798.9L696.4 798.8L695.9 798.9L695.6 799.2L695.4 799.6Z"/>
<path d="M713.3 735.0L712.1 735.9L710.4 737.2L708.4 738.6L706.3 740.2L704.2 741.7L702.4 743.1L700.7 744.3L699.0 745.4L697.3 746.5L695.6 747.6L694.0 748.9L692.3 750.3L690.7 751.8L689.0 753.5L687.4 755.3L685.9 757.2L684.5 759.0L683.3 760.8L682.4 762.5L681.6 764.3L681.1 766.1L680.6 767.8L680.4 769.4L680.2 770.9L680.2 772.5L680.5 774.0L680.9 775.5L681.4 776.8L681.8 777.8L682.0 778.6L682.0 778.6L681.9 777.8L681.7 776.7L681.5 775.4L681.3 773.9L681.3 772.5L681.4 771.1L681.7 769.6L682.0 768.1L682.5 766.5L683.0 764.8L683.8 763.2L684.7 761.6L685.8 760.0L687.2 758.3L688.7 756.5L690.4 754.8L692.1 753.2L693.7 751.7L695.2 750.5L696.8 749.3L698.5 748.2L700.1 747.2L701.9 746.1L703.6 744.9L705.6 743.5L707.7 742.0L709.8 740.5L711.8 739.1L713.5 737.8L714.7 737.0L715.0 736.6L715.2 736.2L715.2 735.7L715.0 735.3L714.6 735.0L714.2 734.8L713.7 734.8Z"/>
<path d="M734.9 730.1L734.9 731.6L735.0 733.7L735.1 736.2L735.2 738.9L735.3 741.7L735.5 744.2L735.7 746.6L736.0 749.0L736.3 751.5L736.7 754.0L737.2 756.4L737.9 758.7L738.7 760.8L739.6 762.8L740.7 764.8L741.9 766.6L743.3 768.3L744.9 769.8L746.6 771.0L748.6 772.0L750.6 772.6L752.6 773.2L754.6 773.7L756.6 774.3L758.7 774.9L761.0 775.4L763.2 775.9L765.4 776.4L767.5 777.0L769.5 777.9L771.5 779.0L773.7 780.6L775.8 782.3L777.7 784.0L779.4 785.4L780.6 786.4L780.6 786.4L779.6 785.2L778.1 783.6L776.4 781.6L774.5 779.6L772.5 777.7L770.5 776.1L768.4 775.0L766.1 774.2L763.8 773.5L761.6 772.9L759.4 772.3L757.4 771.7L755.4 771.0L753.4 770.3L751.6 769.7L749.9 769.0L748.4 768.2L747.1 767.2L746.0 765.9L745.1 764.5L744.2 762.9L743.4 761.1L742.7 759.2L742.1 757.3L741.7 755.4L741.3 753.2L741.1 750.9L740.8 748.6L740.7 746.2L740.5 743.8L740.3 741.3L740.2 738.7L740.1 736.0L740.0 733.6L740.0 731.5L739.9 729.9L739.7 729.0L739.1 728.2L738.3 727.7L737.3 727.5L736.4 727.7L735.6 728.3L735.1 729.1Z"/>
<path d="M736.8 759.9L736.7 762.2L736.5 765.4L736.3 769.3L736.2 773.3L736.4 777.1L736.8 780.3L737.5 782.8L738.4 785.0L739.5 786.9L740.9 788.6L742.4 790.1L744.1 791.6L746.2 793.0L748.6 794.2L751.2 795.3L753.7 796.4L756.2 797.4L758.4 798.5L760.5 799.8L762.5 801.0L764.4 802.3L766.3 803.6L768.1 805.1L769.7 806.6L771.4 808.4L773.1 810.6L774.7 813.0L776.2 815.2L777.5 817.1L778.4 818.4L778.4 818.4L777.7 817.0L776.7 814.9L775.5 812.5L774.1 810.0L772.6 807.5L771.1 805.4L769.4 803.6L767.6 802.0L765.7 800.5L763.7 799.1L761.7 797.8L759.6 796.5L757.3 795.2L754.8 794.0L752.2 792.9L749.8 791.8L747.6 790.7L745.9 789.4L744.4 788.0L743.1 786.6L742.1 785.2L741.2 783.6L740.6 781.8L740.0 779.7L739.7 776.9L739.6 773.3L739.8 769.4L740.0 765.6L740.2 762.4L740.2 760.1L740.1 759.4L739.8 758.8L739.2 758.4L738.6 758.3L737.9 758.4L737.3 758.7L736.9 759.3Z"/>
<path d="M728.1 795.5L730.1 796.6L732.8 798.3L736.1 800.2L739.5 802.2L742.9 804.1L745.8 805.7L748.2 807.0L750.5 807.9L752.5 808.7L754.5 809.5L756.5 810.5L758.6 811.8L761.1 813.6L764.0 815.9L767.0 818.4L769.7 820.9L772.1 822.9L773.8 824.4L773.8 824.4L772.3 822.8L770.1 820.5L767.6 817.8L764.9 814.9L762.3 812.3L759.8 810.2L757.6 808.6L755.5 807.5L753.4 806.5L751.4 805.7L749.3 804.7L747.0 803.5L744.3 801.8L741.1 799.7L737.7 797.6L734.5 795.5L731.8 793.8L729.9 792.5L729.3 792.3L728.6 792.3L728.0 792.6L727.5 793.1L727.3 793.7L727.3 794.4L727.6 795.0Z"/>
<path d="M749.0 676.1L749.0 677.6L749.1 679.7L749.2 682.2L749.3 684.9L749.4 687.6L749.5 690.2L749.7 692.6L749.8 695.0L750.1 697.4L750.3 699.8L750.5 702.1L750.7 704.2L750.9 706.2L751.2 708.0L751.4 709.7L751.7 711.3L751.9 713.0L752.1 714.9L752.3 717.0L752.5 719.2L752.7 721.4L752.9 723.7L753.1 726.0L753.3 728.2L753.5 730.2L753.6 732.3L753.8 734.5L754.0 736.6L754.4 738.6L755.0 740.6L755.7 742.3L756.6 743.8L757.6 745.2L758.7 746.4L760.0 747.7L761.5 749.1L763.5 750.7L765.9 752.4L768.4 754.2L770.9 755.8L773.0 757.2L774.5 758.2L774.5 758.2L773.2 757.0L771.3 755.3L769.2 753.3L766.9 751.1L764.9 749.1L763.3 747.3L762.1 745.8L761.1 744.5L760.3 743.3L759.6 742.1L759.1 740.8L758.6 739.4L758.3 737.8L758.1 736.1L757.9 734.2L757.9 732.1L757.8 730.0L757.7 727.8L757.5 725.6L757.4 723.4L757.3 721.1L757.1 718.8L757.0 716.6L756.9 714.5L756.8 712.6L756.7 710.8L756.6 709.1L756.5 707.5L756.4 705.7L756.3 703.8L756.2 701.6L756.0 699.4L755.9 697.0L755.7 694.6L755.6 692.2L755.5 689.8L755.4 687.4L755.3 684.7L755.2 682.0L755.1 679.5L755.0 677.4L755.0 675.9L754.7 674.8L754.1 673.8L753.1 673.2L751.9 673.0L750.8 673.3L749.8 673.9L749.2 674.9Z"/>
<path d="M753.9 722.5L755.0 723.9L756.4 725.8L758.2 728.0L760.1 730.4L762.0 732.7L763.9 734.7L765.9 736.4L768.1 738.1L770.4 739.7L772.5 741.1L774.2 742.3L775.5 743.2L775.5 743.2L774.3 742.2L772.7 740.8L770.8 739.2L768.7 737.4L766.7 735.6L764.9 733.7L763.1 731.7L761.3 729.4L759.5 727.0L757.8 724.8L756.3 722.8L755.3 721.5L755.0 721.2L754.7 721.1L754.4 721.1L754.1 721.3L753.8 721.6L753.7 721.9L753.7 722.2Z"/>
<path d="M748.1 674.2L748.6 675.2L749.4 676.7L750.4 678.5L751.5 680.5L752.9 682.7L754.3 685.2L756.1 687.8L758.0 690.6L760.0 693.5L762.0 696.4L763.9 699.3L765.4 701.9L766.7 704.5L767.8 707.3L768.9 710.3L770.1 713.5L771.5 716.8L773.2 719.9L775.1 722.7L777.2 725.4L779.3 727.9L781.7 730.4L784.3 732.6L787.1 734.7L790.3 736.5L793.6 738.1L797.1 739.4L800.5 740.6L803.9 741.7L807.2 742.7L810.5 743.5L813.7 744.2L816.9 744.8L819.9 745.3L822.7 745.9L825.4 746.7L827.9 747.7L830.3 748.8L832.5 750.0L834.7 751.3L836.9 752.8L839.0 754.5L841.2 756.5L843.3 758.8L845.4 761.3L847.4 763.9L849.4 766.4L851.2 768.9L852.9 771.3L854.4 773.6L855.9 775.9L857.3 778.2L858.5 780.4L859.5 782.6L860.3 784.8L861.0 787.1L861.6 789.4L862.0 791.6L862.3 793.4L862.6 794.7L862.6 794.7L862.5 793.4L862.4 791.5L862.2 789.3L862.0 786.9L861.6 784.4L860.9 782.0L860.0 779.7L858.9 777.3L857.7 774.9L856.3 772.5L854.8 770.0L853.2 767.5L851.5 764.9L849.7 762.2L847.8 759.4L845.7 756.7L843.6 754.2L841.4 751.9L839.2 749.9L836.9 748.1L834.6 746.5L832.2 745.1L829.7 743.7L827.0 742.5L824.1 741.3L821.1 740.4L818.0 739.6L815.0 738.8L812.0 737.9L809.0 736.9L805.9 735.8L802.6 734.6L799.4 733.3L796.3 732.0L793.5 730.5L791.1 728.9L788.9 727.1L786.8 725.2L785.0 723.0L783.2 720.8L781.6 718.4L780.2 715.9L779.0 713.4L778.2 710.7L777.4 707.7L776.5 704.4L775.5 700.9L774.0 697.5L772.1 694.2L769.9 691.0L767.7 688.0L765.5 685.1L763.5 682.5L761.9 680.2L760.5 678.1L759.3 676.0L758.2 674.1L757.3 672.4L756.6 670.9L755.9 669.8L754.8 668.5L753.3 667.7L751.5 667.5L749.8 668.1L748.5 669.2L747.7 670.7L747.5 672.5Z"/>
<path d="M819.4 744.1L820.2 745.7L821.4 747.7L822.8 750.2L824.2 752.8L825.4 755.6L826.1 758.4L826.5 761.3L826.6 764.3L826.5 767.6L826.3 771.0L826.0 774.6L825.7 778.2L825.3 782.3L824.7 786.9L824.1 791.5L823.4 796.0L822.9 799.7L822.5 802.4L822.5 802.4L823.0 799.7L823.8 796.0L824.7 791.7L825.7 787.0L826.5 782.5L827.1 778.4L827.6 774.7L828.1 771.2L828.4 767.7L828.6 764.4L828.6 761.1L828.3 758.0L827.5 754.9L826.4 751.9L825.0 749.0L823.6 746.5L822.4 744.4L821.6 742.9L821.3 742.5L820.9 742.3L820.4 742.2L819.9 742.4L819.5 742.7L819.3 743.1L819.2 743.6Z"/>
<path d="M754.2 675.1L754.9 675.6L756.0 676.4L757.3 677.4L758.9 678.5L760.8 679.7L762.7 680.8L764.9 681.9L767.3 683.1L770.1 684.4L773.1 685.7L776.2 687.0L779.1 688.2L781.9 689.1L784.4 689.8L786.9 690.4L789.5 691.0L792.2 691.5L795.3 692.1L798.9 692.7L803.0 693.3L807.3 694.0L811.6 694.6L815.5 695.3L819.0 695.9L821.9 696.5L824.4 697.0L826.7 697.6L828.8 698.2L831.0 698.9L833.2 699.7L835.4 700.7L837.7 701.8L839.9 703.1L842.3 704.5L844.7 705.9L847.3 707.3L849.9 708.8L852.6 710.3L855.3 711.9L858.2 713.5L861.1 715.0L864.0 716.3L866.8 717.4L869.6 718.4L872.4 719.3L875.2 720.1L878.0 720.8L880.7 721.5L883.5 722.1L886.3 722.6L889.1 723.1L891.9 723.4L894.6 723.7L897.2 723.9L899.7 724.1L902.3 724.0L904.7 724.0L907.0 723.8L909.1 723.7L910.9 723.5L912.2 723.3L913.1 723.1L913.7 722.9L914.3 722.6L915.0 722.3L916.4 722.0L918.3 721.4L920.7 720.7L923.3 720.0L926.1 719.2L929.1 718.6L932.1 718.1L935.4 717.8L939.0 717.5L942.7 717.4L946.4 717.3L950.0 717.3L953.3 717.4L956.3 717.6L959.4 718.0L962.3 718.4L965.0 718.8L967.2 719.2L968.8 719.5L968.8 719.5L967.2 719.1L965.0 718.5L962.4 717.9L959.5 717.2L956.5 716.6L953.3 716.2L950.0 716.0L946.4 715.8L942.7 715.8L938.9 715.8L935.3 715.9L931.9 716.1L928.7 716.4L925.6 716.9L922.7 717.5L920.0 718.1L917.6 718.6L915.6 719.0L914.2 719.4L913.2 719.6L912.6 719.8L912.3 719.9L911.7 720.0L910.5 720.1L908.8 720.2L906.8 720.3L904.6 720.4L902.2 720.5L899.8 720.4L897.4 720.3L895.0 720.0L892.4 719.6L889.8 719.1L887.1 718.5L884.5 717.9L881.9 717.1L879.3 716.3L876.7 715.4L874.2 714.4L871.6 713.4L869.1 712.2L866.6 710.9L864.1 709.5L861.6 707.8L859.1 706.0L856.5 704.2L853.9 702.4L851.3 700.7L848.9 699.1L846.5 697.6L844.1 696.1L841.7 694.6L839.2 693.2L836.6 691.9L834.1 690.8L831.7 689.8L829.3 688.9L826.8 688.1L824.1 687.3L821.0 686.5L817.4 685.7L813.3 684.9L809.0 684.1L804.8 683.3L801.0 682.4L797.7 681.5L795.1 680.7L792.8 679.8L790.9 678.9L789.2 678.0L787.6 676.9L786.1 675.6L784.5 674.1L782.8 672.1L781.2 670.0L779.5 667.8L777.8 665.6L776.3 663.8L774.9 662.2L773.7 660.9L772.6 659.7L771.5 658.6L770.6 657.7L769.8 656.9L765.8 654.6L761.1 654.0L756.6 655.3L752.9 658.2L750.6 662.2L750.0 666.9L751.3 671.4Z"/>
<path d="M794.7 691.9L796.1 693.8L798.0 696.4L800.3 699.5L802.7 702.8L805.0 706.0L807.1 708.8L808.9 711.3L810.7 713.8L812.4 716.2L814.1 718.5L815.8 720.6L817.6 722.6L819.7 724.5L821.9 726.3L824.2 727.9L826.3 729.3L828.0 730.4L829.3 731.3L829.3 731.3L828.1 730.3L826.5 728.9L824.6 727.3L822.6 725.5L820.6 723.5L818.8 721.6L817.2 719.5L815.6 717.3L814.1 715.0L812.5 712.6L810.8 710.0L809.1 707.4L807.1 704.5L804.9 701.2L802.6 697.9L800.4 694.7L798.6 692.0L797.3 690.1L796.9 689.6L796.3 689.4L795.6 689.4L795.1 689.7L794.6 690.1L794.4 690.7L794.4 691.4Z"/>
<path d="M847.0 705.4L847.4 707.1L848.0 709.4L848.8 712.2L849.7 715.2L850.7 718.2L851.9 721.0L853.3 723.7L854.9 726.4L856.7 729.0L858.5 731.5L860.3 733.9L861.9 736.1L863.4 738.1L865.0 740.0L866.4 741.8L867.9 743.4L869.3 744.9L870.8 746.0L872.2 746.9L873.7 747.5L875.1 747.8L876.3 748.0L877.3 748.2L878.1 748.3L878.1 748.3L877.4 748.0L876.4 747.7L875.3 747.2L874.1 746.6L872.8 745.9L871.6 745.0L870.4 743.8L869.1 742.3L867.8 740.7L866.4 738.9L865.0 737.0L863.5 734.9L862.0 732.7L860.3 730.3L858.6 727.7L857.0 725.1L855.5 722.5L854.3 720.0L853.3 717.3L852.4 714.4L851.6 711.4L851.0 708.7L850.5 706.3L850.0 704.6L849.8 704.0L849.3 703.6L848.7 703.4L848.1 703.5L847.5 703.7L847.1 704.2L846.9 704.8Z"/>
<path d="M881.5 720.9L882.7 722.1L884.2 723.8L886.1 725.8L888.1 727.9L890.1 730.0L891.8 731.8L893.4 733.4L894.9 734.8L896.3 736.2L897.7 737.6L899.2 738.9L900.7 740.2L902.4 741.5L904.3 742.9L906.3 744.2L908.1 745.4L909.6 746.5L910.7 747.2L910.7 747.2L909.7 746.3L908.3 745.2L906.6 743.8L904.8 742.2L903.1 740.7L901.5 739.2L900.1 737.9L898.7 736.5L897.4 735.1L896.0 733.7L894.6 732.2L893.2 730.6L891.5 728.7L889.7 726.6L887.8 724.3L886.0 722.2L884.5 720.4L883.5 719.1L883.1 718.8L882.6 718.7L882.1 718.8L881.6 719.0L881.3 719.4L881.2 719.9L881.3 720.4Z"/>
<path d="M722.0 660.0L720.0 668.0L716.0 671.0L705.0 676.0L702.0 686.0L709.0 688.0L716.9 686.6L722.0 689.0L726.5 687.7L730.0 688.0L734.5 680.0L738.0 692.0L744.0 697.0L750.2 695.5L753.0 693.0L756.2 686.9L758.0 688.0L760.1 677.9L770.0 682.0L785.0 676.0L778.5 668.0L777.0 660.0 Z"/>
</g>
<g fill="#0d1f8c">
<path d="M644.7 323.3C635.8 324.5 626.6 325.4 621.8 329.9C617.6 333.9 616.8 341.6 618.3 348.4C625.0 350.2 632.7 349.8 637.0 345.8C641.7 341.3 643.1 332.1 644.7 323.3Z"/>
<path d="M668.8 333.3C662.7 335.3 656.3 337.1 653.3 340.9C650.7 344.3 650.8 349.8 652.3 354.4C657.1 354.8 662.5 353.5 665.1 350.2C668.1 346.4 668.3 339.7 668.8 333.3Z"/>
<path d="M719.2 307.8C711.6 313.9 703.5 319.9 701.1 326.9C699.0 333.1 701.7 341.0 706.0 346.8C712.9 344.8 719.9 340.2 722.0 333.9C724.3 326.9 721.6 317.3 719.2 307.8Z"/>
<path d="M723.3 301.3C723.7 306.2 723.9 311.2 726.2 314.2C728.2 316.8 732.2 317.9 735.8 317.8C736.9 314.4 736.9 310.2 734.9 307.5C732.7 304.6 727.9 303.0 723.3 301.3Z"/>
<path d="M525.4 349.5C522.5 360.1 519.1 370.9 521.5 379.0C523.6 386.2 531.0 391.8 538.5 394.5C543.4 388.2 546.6 379.4 544.5 372.2C542.2 364.1 533.6 356.9 525.4 349.5Z"/>
<path d="M784.0 291.5C779.2 295.6 774.1 299.6 772.7 304.2C771.4 308.3 773.2 313.3 776.0 317.0C780.4 315.6 784.8 312.5 786.0 308.4C787.5 303.8 785.6 297.6 784.0 291.5Z"/>
<path d="M815.1 314.5C807.4 320.6 799.2 326.5 796.9 333.6C794.8 339.8 797.6 347.7 802.0 353.5C809.0 351.5 816.0 346.9 818.1 340.7C820.5 333.7 817.6 324.0 815.1 314.5Z"/>
<path d="M550.1 389.7C549.8 397.3 549.2 405.0 552.1 409.9C554.7 414.3 560.6 416.8 566.2 417.2C568.6 412.1 569.3 405.8 566.8 401.4C563.9 396.4 556.8 393.1 550.1 389.7Z"/>
<path d="M585.8 379.7C582.8 385.9 579.4 392.1 580.0 397.3C580.6 401.9 584.7 406.1 589.2 408.5C593.0 405.1 596.1 400.1 595.5 395.5C594.9 390.3 590.2 385.0 585.8 379.7Z"/>
<path d="M666.0 359.0C654.9 361.3 643.4 363.2 637.3 369.2C631.9 374.6 630.7 384.2 632.3 392.5C640.6 394.1 650.2 393.0 655.6 387.6C661.7 381.6 663.7 370.1 666.0 359.0Z"/>
<path d="M673.4 355.6C677.0 364.2 680.3 373.1 686.1 377.3C691.2 381.1 699.1 381.1 705.5 379.1C705.5 372.4 703.1 364.9 697.9 361.2C692.1 356.9 682.7 356.4 673.4 355.6Z"/>
<path d="M687.2 386.7C693.1 392.1 699.0 397.8 705.0 398.8C710.3 399.7 716.4 396.5 720.5 392.3C718.0 386.9 713.3 382.0 708.0 381.1C702.0 380.1 694.6 383.6 687.2 386.7Z"/>
<path d="M647.9 403.1C642.4 403.8 636.7 404.3 633.4 406.9C630.4 409.3 629.2 413.8 629.3 417.8C633.2 418.9 637.9 418.7 640.8 416.3C644.2 413.7 646.0 408.3 647.9 403.1Z"/>
<path d="M526.5 469.3C537.0 467.9 547.9 466.8 554.5 461.7C560.3 457.2 563.1 448.7 563.2 441.2C555.9 439.3 547.0 439.8 541.1 444.3C534.5 449.3 530.6 459.5 526.5 469.3Z"/>
<path d="M577.2 448.2C573.0 451.9 568.5 455.5 567.4 459.6C566.5 463.2 568.4 467.5 571.2 470.7C575.2 469.4 579.0 466.5 580.0 462.9C581.1 458.9 579.0 453.5 577.2 448.2Z"/>
<path d="M625.9 475.9C629.7 480.6 633.4 485.5 637.8 486.9C641.6 488.1 646.4 486.2 649.9 483.3C648.6 478.9 645.7 474.7 641.9 473.5C637.6 472.2 631.7 474.2 625.9 475.9Z"/>
<path d="M583.8 499.2C594.1 504.1 604.4 509.4 612.9 508.4C620.5 507.4 627.4 500.6 631.3 493.2C625.7 487.0 617.4 482.1 609.8 483.1C601.2 484.2 592.5 491.9 583.8 499.2Z"/>
<path d="M647.3 501.6C646.4 510.6 645.2 519.7 648.3 525.9C651.0 531.3 657.9 534.7 664.4 535.7C667.5 529.9 668.9 522.4 666.2 516.9C663.1 510.8 655.0 506.3 647.3 501.6Z"/>
<path d="M959.0 370.1C946.6 373.2 933.9 376.0 927.1 383.0C921.0 389.2 919.6 399.9 921.3 409.1C930.5 410.5 941.2 408.7 947.2 402.5C954.0 395.4 956.3 382.6 959.0 370.1Z"/>
<path d="M859.8 362.4C856.3 372.9 852.2 383.6 854.3 391.7C856.1 399.0 863.5 404.8 871.2 407.7C876.6 401.5 880.4 392.9 878.5 385.6C876.5 377.5 867.9 370.0 859.8 362.4Z"/>
<path d="M891.3 388.1C886.6 394.1 881.6 400.0 881.1 405.7C880.6 410.8 884.0 416.2 888.3 419.8C893.2 417.1 897.5 412.4 898.0 407.3C898.6 401.6 894.8 394.8 891.3 388.1Z"/>
<path d="M842.2 402.1C842.7 414.0 842.8 426.2 848.0 433.4C852.7 439.9 862.4 442.8 871.2 442.6C874.2 434.3 874.6 424.2 870.0 417.7C864.8 410.4 853.3 406.4 842.2 402.1Z"/>
<path d="M793.7 393.1C784.2 399.8 774.2 406.4 770.9 414.6C767.9 421.9 770.5 431.4 775.1 438.6C783.5 436.7 792.0 431.7 794.9 424.4C798.3 416.2 795.8 404.6 793.7 393.1Z"/>
<path d="M822.7 395.1C815.0 397.3 807.1 399.3 802.8 403.8C799.0 407.9 798.1 414.5 799.1 420.2C804.8 420.8 811.4 419.5 815.2 415.5C819.5 411.0 821.0 402.9 822.7 395.1Z"/>
<path d="M824.5 438.2C818.6 435.0 812.6 431.5 807.5 431.9C803.0 432.2 798.7 436.0 796.1 440.2C799.2 444.0 804.0 447.2 808.6 446.8C813.7 446.5 819.1 442.2 824.5 438.2Z"/>
<path d="M946.0 443.8C935.4 448.7 924.2 453.3 919.6 460.8C915.5 467.4 916.7 477.3 920.3 485.3C929.1 485.0 938.5 481.6 942.6 475.0C947.2 467.5 946.4 455.5 946.0 443.8Z"/>
<path d="M953.4 517.8C947.5 509.4 941.8 500.7 934.6 497.5C928.2 494.6 919.7 496.4 913.3 500.1C914.9 507.3 919.3 514.8 925.7 517.6C932.9 520.8 943.2 519.1 953.4 517.8Z"/>
<path d="M912.6 515.3C910.0 510.7 907.6 505.9 904.0 504.0C900.9 502.4 896.5 503.2 893.0 505.0C893.5 508.9 895.3 513.0 898.4 514.6C902.0 516.5 907.3 515.8 912.6 515.3Z"/>
</g>
<g fill="#1e61f0">
<path d="M735.2 224.3C727.9 236.8 720.0 249.4 720.6 260.3C721.1 269.9 729.2 279.2 738.4 284.8C747.0 278.3 754.0 268.2 753.5 258.5C753.0 247.6 743.7 236.0 735.2 224.3Z"/>
<path d="M693.5 242.3C688.4 247.5 682.9 252.6 681.7 258.0C680.6 262.9 683.1 268.5 686.6 272.5C691.5 270.4 696.2 266.4 697.3 261.6C698.5 256.2 695.9 249.2 693.5 242.3Z"/>
<path d="M644.3 275.8C645.6 285.9 646.6 296.3 651.7 301.9C656.2 306.9 664.8 308.2 672.4 307.0C674.4 299.5 674.0 290.9 669.5 285.9C664.5 280.2 654.2 278.2 644.3 275.8Z"/>
<path d="M698.2 271.4C691.4 280.2 684.0 289.1 683.4 297.4C682.8 304.9 688.1 312.8 694.6 318.0C701.9 313.9 708.3 306.9 708.9 299.4C709.5 291.0 703.6 281.2 698.2 271.4Z"/>
<path d="M626.9 272.2C616.9 279.3 606.4 286.2 603.1 294.8C600.1 302.4 603.1 312.4 608.3 319.9C617.2 317.9 626.2 312.6 629.2 305.0C632.5 296.4 629.4 284.2 626.9 272.2Z"/>
<path d="M574.2 302.3C565.8 309.3 557.0 316.2 554.7 324.1C552.6 331.1 556.0 339.7 561.2 346.0C569.0 343.6 576.6 338.2 578.6 331.2C581.0 323.3 577.4 312.8 574.2 302.3Z"/>
<path d="M586.4 338.3C577.4 343.9 568.0 349.3 564.7 356.6C561.8 363.0 564.0 371.8 568.2 378.5C576.0 377.2 584.1 373.1 587.0 366.7C590.3 359.4 588.1 348.8 586.4 338.3Z"/>
<path d="M791.1 213.1C779.9 217.2 768.3 220.9 763.2 228.1C758.7 234.5 759.4 244.6 762.7 253.0C771.7 253.4 781.5 250.7 786.0 244.4C791.1 237.2 790.9 225.0 791.1 213.1Z"/>
<path d="M845.8 218.1C832.6 218.5 819.1 218.3 811.0 224.0C803.7 229.0 800.4 239.7 800.5 249.5C809.6 253.0 820.8 253.7 828.1 248.6C836.2 243.0 840.8 230.3 845.8 218.1Z"/>
<path d="M827.7 261.0C816.1 260.0 804.2 258.5 796.2 262.5C789.1 266.0 784.6 274.8 783.2 283.2C790.7 287.1 800.5 288.8 807.6 285.3C815.6 281.3 821.5 270.9 827.7 261.0Z"/>
<path d="M851.0 309.3C842.2 311.9 833.0 314.2 828.3 319.4C824.1 324.0 823.2 331.8 824.6 338.3C831.2 339.0 838.9 337.5 843.1 332.9C847.8 327.6 849.3 318.3 851.0 309.3Z"/>
<path d="M863.0 328.4C856.3 329.5 849.5 330.3 845.3 333.6C841.7 336.6 840.0 342.0 840.1 346.8C844.8 347.9 850.4 347.5 854.1 344.5C858.2 341.2 860.5 334.7 863.0 328.4Z"/>
<path d="M846.6 350.2C837.7 349.2 828.6 347.8 822.4 350.7C816.9 353.3 813.2 359.9 812.0 366.3C817.7 369.5 825.1 371.0 830.6 368.4C836.9 365.5 841.7 357.7 846.6 350.2Z"/>
<path d="M920.3 294.2C912.7 303.6 904.6 312.9 903.6 322.0C902.7 330.1 908.0 338.8 914.7 344.7C922.5 340.5 929.6 333.1 930.5 325.0C931.5 315.9 925.6 305.0 920.3 294.2Z"/>
<path d="M882.8 315.8C877.2 329.1 871.0 342.5 872.8 353.4C874.3 363.0 883.2 371.5 892.7 376.1C900.2 368.7 905.9 357.8 904.3 348.2C902.5 337.3 892.4 326.6 882.8 315.8Z"/>
<path d="M959.0 349.0C949.3 347.7 939.4 346.0 932.4 349.0C926.2 351.7 921.9 358.8 920.3 365.7C926.4 369.2 934.5 371.0 940.7 368.3C947.7 365.3 953.3 357.0 959.0 349.0Z"/>
<path d="M495.6 389.1C499.9 397.5 504.0 406.3 510.2 410.3C515.8 413.8 523.7 413.5 530.1 411.1C529.6 404.3 526.5 396.9 521.0 393.4C514.8 389.5 505.1 389.5 495.6 389.1Z"/>
<path d="M502.0 429.2C510.5 433.5 519.1 438.3 526.4 437.7C532.8 437.1 538.9 431.8 542.5 425.8C538.0 420.5 531.1 416.2 524.6 416.8C517.3 417.4 509.7 423.5 502.0 429.2Z"/>
<path d="M501.0 470.7C507.2 468.8 513.7 467.1 517.3 463.4C520.5 460.1 521.6 454.7 521.1 450.2C516.6 449.8 511.2 451.0 508.0 454.3C504.4 457.9 502.8 464.4 501.0 470.7Z"/>
<path d="M554.5 476.3C550.2 478.9 545.6 481.3 543.8 484.8C542.2 487.8 542.9 492.0 544.5 495.3C548.1 494.8 552.0 492.9 553.6 489.9C555.4 486.5 554.8 481.3 554.5 476.3Z"/>
<path d="M570.2 532.5C579.9 534.8 589.7 537.5 597.1 535.3C603.7 533.3 608.8 526.7 611.3 520.0C605.5 515.8 597.6 513.2 591.0 515.2C583.6 517.5 577.0 525.2 570.2 532.5Z"/>
<path d="M611.3 571.8C621.0 564.3 631.2 557.0 634.4 548.2C637.3 540.4 634.3 530.5 629.3 523.1C620.7 525.4 612.0 531.1 609.1 538.9C605.8 547.6 608.8 559.8 611.3 571.8Z"/>
<path d="M968.0 438.2C962.9 440.5 957.6 442.6 955.2 446.1C953.0 449.3 953.1 454.0 954.4 457.8C958.4 457.7 962.9 456.1 965.0 453.0C967.5 449.5 967.6 443.8 968.0 438.2Z"/>
<path d="M984.1 458.2C973.9 458.4 963.6 458.1 957.0 462.3C951.1 466.0 947.9 474.0 947.4 481.3C954.2 484.0 962.8 484.6 968.7 480.9C975.3 476.7 979.6 467.3 984.1 458.2Z"/>
<path d="M990.5 498.2C981.0 492.0 971.6 485.2 963.1 485.3C955.5 485.3 948.0 491.3 943.3 498.3C948.0 505.3 955.6 511.3 963.2 511.3C971.6 511.2 981.1 504.5 990.5 498.2Z"/>
</g>
<g fill="#c5e1fc">
<path d="M720.5 184.0C713.9 191.8 706.9 199.6 705.8 207.3C705.0 214.1 709.3 221.6 714.9 226.7C721.6 223.2 727.8 217.1 728.7 210.3C729.7 202.6 724.9 193.3 720.5 184.0Z"/>
<path d="M686.4 203.1C685.0 212.1 683.2 221.3 685.9 227.8C688.3 233.6 694.9 237.6 701.4 239.1C704.9 233.4 706.7 225.9 704.3 220.1C701.6 213.7 693.8 208.5 686.4 203.1Z"/>
<path d="M749.1 194.0C743.9 201.7 738.4 209.3 738.3 216.3C738.2 222.5 742.9 228.7 748.5 232.7C754.2 228.9 759.2 222.8 759.3 216.6C759.4 209.6 754.0 201.8 749.1 194.0Z"/>
<path d="M665.5 247.2C662.0 255.1 658.2 263.0 659.2 269.4C660.2 275.1 665.5 280.1 671.3 282.8C675.9 278.4 679.4 272.0 678.5 266.3C677.4 259.9 671.3 253.6 665.5 247.2Z"/>
<path d="M591.2 251.8C587.0 259.3 582.4 266.8 582.9 273.3C583.2 279.1 588.1 284.6 593.6 287.8C598.6 283.8 602.7 277.8 602.3 272.0C601.9 265.6 596.3 258.7 591.2 251.8Z"/>
<path d="M538.5 316.3C534.9 324.9 531.0 333.6 532.2 340.5C533.3 346.7 539.2 352.0 545.5 354.8C550.4 349.9 554.0 342.9 552.9 336.8C551.6 329.8 544.9 323.1 538.5 316.3Z"/>
<path d="M498.0 344.0C496.6 351.5 494.9 359.1 497.1 364.4C499.0 369.2 504.5 372.4 510.0 373.7C513.1 369.0 514.8 362.8 512.8 358.0C510.7 352.7 504.2 348.4 498.0 344.0Z"/>
<path d="M799.1 183.6C795.3 186.9 791.3 190.2 790.4 193.8C789.6 197.0 791.5 200.9 794.1 203.7C797.7 202.5 801.2 199.9 802.0 196.7C802.9 193.1 800.9 188.3 799.1 183.6Z"/>
<path d="M824.1 198.1C816.3 200.3 808.2 202.2 804.3 206.8C800.9 210.9 800.7 217.8 802.5 223.7C808.6 224.4 815.4 223.2 818.8 219.1C822.7 214.5 823.3 206.2 824.1 198.1Z"/>
<path d="M866.2 240.3C857.9 239.5 849.5 238.5 843.7 241.3C838.6 243.8 835.4 250.0 834.3 255.9C839.6 258.7 846.5 259.9 851.7 257.4C857.4 254.6 861.7 247.3 866.2 240.3Z"/>
<path d="M886.3 277.0C882.8 285.5 878.9 294.0 880.2 300.7C881.3 306.7 887.2 311.8 893.5 314.5C898.3 309.7 901.9 302.8 900.8 296.8C899.5 290.0 892.7 283.5 886.3 277.0Z"/>
<path d="M959.8 322.3C952.3 322.2 944.7 321.8 939.7 324.6C935.2 327.2 932.6 333.0 932.0 338.3C936.9 340.4 943.2 341.1 947.7 338.5C952.7 335.6 956.2 328.8 959.8 322.3Z"/>
<path d="M982.0 318.3C974.1 321.4 965.9 324.4 962.3 329.6C959.2 334.2 959.9 341.5 962.4 347.4C968.8 347.5 975.8 345.4 978.9 340.8C982.5 335.5 982.1 326.8 982.0 318.3Z"/>
<path d="M996.9 343.1C987.2 346.2 977.1 349.0 971.7 354.9C966.9 360.1 965.6 368.6 966.8 375.7C974.0 376.3 982.3 374.3 987.2 369.1C992.6 363.3 994.6 353.0 996.9 343.1Z"/>
<path d="M988.9 381.1C978.3 382.2 967.5 383.0 960.7 387.8C954.7 392.2 951.7 400.6 951.4 408.1C958.6 410.2 967.6 410.0 973.6 405.7C980.3 400.8 984.5 390.8 988.9 381.1Z"/>
<path d="M1004.9 477.3C998.0 474.1 991.0 470.5 985.2 471.2C980.1 471.8 975.4 476.3 972.8 481.3C976.6 485.5 982.2 488.7 987.3 488.1C993.1 487.3 999.0 482.1 1004.9 477.3Z"/>
<path d="M990.2 528.2C985.6 524.4 981.0 520.3 976.5 519.6C972.4 519.0 967.9 521.4 964.9 524.5C966.9 528.3 970.5 531.9 974.6 532.5C979.1 533.2 984.7 530.5 990.2 528.2Z"/>
</g>
<g fill="none" stroke="#1e61f0" stroke-width="1.1" stroke-linejoin="miter">
<polyline points="893.0,290.3 939.3,246.3 1141.7,246.3"/>
<polyline points="652.8,457.5 609.9,457.5 454.6,569.3"/>
<polyline points="764.1,635.3 810.2,591.0 1012.6,591.0"/>
<polyline points="728.6,727.4 551.1,727.4 485.6,787.9"/>
</g><g fill="#1e61f0">
<circle cx="893.0" cy="290.3" r="4"/>
<circle cx="1141.7" cy="246.3" r="4"/>
<circle cx="652.8" cy="457.5" r="4"/>
<circle cx="454.6" cy="569.3" r="4"/>
<circle cx="764.1" cy="635.3" r="4"/>
<circle cx="1012.6" cy="591.0" r="4"/>
<circle cx="728.6" cy="727.4" r="4"/>
<circle cx="485.6" cy="787.9" r="4"/>
</g>
<g fill="#1e61f0" font-family="Liberation Sans, sans-serif" font-weight="700">
<text x="477.89" y="133.0" font-size="94.3" textLength="334.17" lengthAdjust="spacingAndGlyphs">Product</text>
<text x="835.97" y="133.0" font-size="94.3" textLength="186.06" lengthAdjust="spacingAndGlyphs">Tree</text>
<text x="1175.41" y="264.1" font-size="43.75" textLength="93.46" lengthAdjust="spacingAndGlyphs">deas</text>
<text x="246.39" y="561.0" font-size="43.75" textLength="151.99" lengthAdjust="spacingAndGlyphs">Product</text>
<text x="195.75" y="611.2" font-size="43.75" textLength="255.75" lengthAdjust="spacingAndGlyphs">Functionality</text>
<text x="1025.99" y="606.0" font-size="43.75" textLength="89.39" lengthAdjust="spacingAndGlyphs">Core</text>
<text x="1125.78" y="606.0" font-size="43.75" textLength="171.15" lengthAdjust="spacingAndGlyphs">Features</text>
<text x="214.56" y="801.0" font-size="43.75" textLength="258.16" lengthAdjust="spacingAndGlyphs">nfrastructure</text>
<text x="1200.39" y="863.9" font-size="53.5" textLength="246.60" lengthAdjust="spacingAndGlyphs">Amplitude</text>
<path d="M1158.8 234.0H1173.2V237.6H1169.6V260.5H1173.2V264.1H1158.8V260.5H1162.4V237.6H1158.8Z"/>
<path d="M198.0 771.0H212.1V774.6H208.7V797.4H212.1V801.0H198.0V797.4H201.5V774.6H198.0Z"/>
</g>
<circle cx="1157.5" cy="848.7" r="34" fill="#1e61f0"/><g fill="none" stroke="#4d6872" stroke-width="2.2" stroke-linecap="round"><path d="M1133.5 847.7H1180.5"/><path d="M1140.3 859.5C1144 851 1147 826.8 1152 826.8C1157 826.8 1158.5 838 1160.7 847.7C1163 857.5 1165.5 868 1170 868C1173.5 868 1175.5 860 1177.3 853"/></g>
</svg>
</body></html>
